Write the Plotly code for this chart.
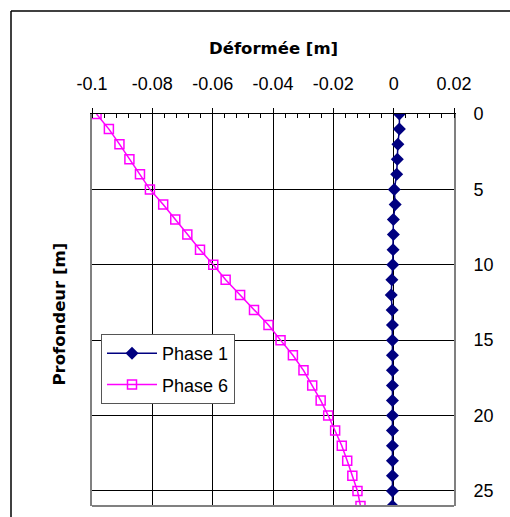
import plotly.graph_objects as go

depth = list(range(0, 27))
phase1 = [0.0019, 0.0019, 0.0014, 0.0012, 0.0010, 0.0002, 0.0005, -0.0001, -0.0001,
          -0.0002, -0.0003, -0.0006, -0.0008, -0.0005, -0.0004, -0.0004, -0.0004,
          -0.0004, -0.0004, -0.0004, -0.0004, -0.0004, -0.0004, -0.0004, -0.0004,
          -0.0004, -0.0004]
phase6 = [-0.0985, -0.0944, -0.0909, -0.0876, -0.0841, -0.0808, -0.0764, -0.0724,
          -0.0684, -0.0642, -0.0598, -0.0557, -0.0509, -0.0463, -0.0415, -0.0375,
          -0.0334, -0.0299, -0.0270, -0.0242, -0.0217, -0.0194, -0.0172, -0.0154,
          -0.0137, -0.0120, -0.0110]
x_ticks = [-0.1, -0.08, -0.06, -0.04, -0.02, 0, 0.02]
x_labels = ["-0.1", "-0.08", "-0.06", "-0.04", "-0.02", "0", "0.02"]
y_ticks = [0, 5, 10, 15, 20, 25]

FONT = "Arial, Liberation Sans, sans-serif"
BOLD_FONT = "DejaVu Sans, sans-serif"

fig = go.Figure()
fig.add_trace(go.Scatter(
    x=phase1, y=depth, name="Phase 1", mode="lines+markers",
    line=dict(color="#000080", width=1.5),
    marker=dict(symbol="diamond", size=10, color="#000080"),
    legendgroup="g1",
))
fig.add_trace(go.Scatter(
    x=phase6, y=depth, name="Phase 6", mode="lines+markers",
    line=dict(color="#FF00FF", width=1.5),
    marker=dict(symbol="square-open", size=9, color="#FF00FF", line=dict(width=1.5)),
    legendgroup="g6",
))

L, R, T, B = 92, 56, 114, 11
W, H = 510, 517
pw, ph = W - L - R, H - T - B

def px(xp):
    return (xp - L) / pw

def py(yp):
    return 1 - (yp - T) / ph

shapes = [
    dict(type="line", xref="paper", yref="paper", x0=px(11), x1=px(11), y0=py(11), y1=py(530),
         line=dict(color="black", width=1.5)),
    dict(type="line", xref="paper", yref="paper", x0=px(11), x1=px(530), y0=py(11), y1=py(11),
         line=dict(color="black", width=1.5)),
    dict(type="line", xref="paper", yref="paper", x0=0, x1=1, y0=0, y1=0,
         line=dict(color="#808080", width=2)),
]

fig.update_layout(
    width=W, height=H,
    margin=dict(l=L, r=R, t=T, b=B, autoexpand=False),
    paper_bgcolor="white", plot_bgcolor="white",
    font=dict(family=FONT, size=18, color="black"),
    showlegend=True,
    legend=dict(
        x=px(101), y=py(334), xanchor="left", yanchor="top",
        bgcolor="white", bordercolor="#555555", borderwidth=1,
        font=dict(family=FONT, size=18, color="black"),
        traceorder="grouped", tracegroupgap=5, itemwidth=50,
    ),
    shapes=shapes,
    xaxis=dict(
        side="top", range=[-0.1, 0.02], tickvals=x_ticks, ticktext=x_labels,
        showgrid=True, gridcolor="black", gridwidth=1,
        showline=True, linecolor="black", linewidth=1,
        ticks="outside", ticklen=5, tickcolor="black",
        minor=dict(dtick=0.004, ticks="inside", ticklen=4, tickcolor="black", showgrid=False),
        ticklabelstandoff=11, automargin=False,
        zeroline=False,
    ),
    yaxis=dict(
        side="right", range=[26, 0], tickvals=y_ticks,
        showgrid=True, gridcolor="black", gridwidth=1,
        showline=True, mirror=True, linecolor="#808080", linewidth=2,
        ticks="", ticklabelstandoff=14, automargin=False,
        zeroline=False,
    ),
)
fig.add_annotation(
    text="<b>Déformée [m]</b>", xref="paper", yref="paper",
    x=px(273), y=py(48), showarrow=False, xanchor="center", yanchor="middle",
    font=dict(family=BOLD_FONT, size=16.5, color="black"),
)
fig.add_annotation(
    text="<b>Profondeur [m]</b>", xref="paper", yref="paper",
    x=px(47), y=py(314), textangle=-90, showarrow=False,
    font=dict(family=BOLD_FONT, size=16.5, color="black"),
)

fig.write_html("out.html")
